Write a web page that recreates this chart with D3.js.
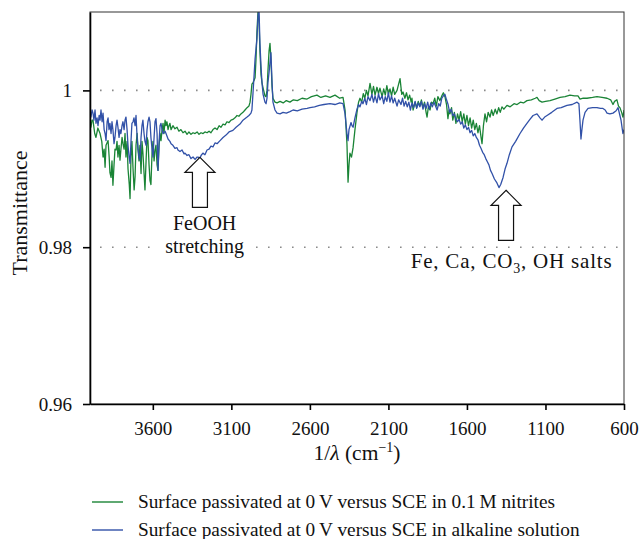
<!DOCTYPE html>
<html lang="en">
<head>
  <meta charset="UTF-8">
  <title>Transmittance spectra</title>
  <script src="https://d3js.org/d3.v7.min.js"></script>
  <style>
    body { margin: 0; background: #fff; }
    svg text { font-family: "Liberation Serif", "Times New Roman", serif; }
  </style>
</head>
<body>
  <div id="chart"></div>

  <script>
    // wavenumber (cm-1), transmittance
    const nitrites = [
      [4000, 0.9960], [3994, 0.9953], [3987, 0.9962], [3981, 0.9962], [3970, 0.9945], [3962, 0.9940],
      [3950, 0.9952], [3936, 0.9945], [3925, 0.9935], [3917, 0.9915], [3910, 0.9925], [3904, 0.9902],
      [3898, 0.9930], [3885, 0.9936], [3878, 0.9915], [3873, 0.9895], [3866, 0.9889], [3860, 0.9910],
      [3854, 0.9879], [3847, 0.9905], [3841, 0.9925], [3834, 0.9924], [3828, 0.9935], [3822, 0.9915],
      [3815, 0.9930], [3809, 0.9911], [3803, 0.9925], [3796, 0.9940], [3790, 0.9932], [3783, 0.9925],
      [3777, 0.9945], [3771, 0.9915], [3764, 0.9935], [3758, 0.9900], [3750, 0.9880], [3745, 0.9862],
      [3739, 0.9915], [3733, 0.9935], [3726, 0.9900], [3719, 0.9873], [3713, 0.9890], [3707, 0.9930],
      [3700, 0.9945], [3694, 0.9924], [3688, 0.9910], [3682, 0.9930], [3675, 0.9894], [3669, 0.9935],
      [3663, 0.9920], [3656, 0.9895], [3650, 0.9873], [3643, 0.9910], [3637, 0.9940], [3631, 0.9936],
      [3624, 0.9905], [3618, 0.9885], [3612, 0.9880], [3605, 0.9920], [3599, 0.9935], [3592, 0.9910],
      [3586, 0.9924], [3580, 0.9930], [3573, 0.9905], [3567, 0.9898], [3560, 0.9930], [3554, 0.9945],
      [3548, 0.9936], [3541, 0.9950], [3535, 0.9958], [3529, 0.9945], [3522, 0.9962], [3516, 0.9955],
      [3510, 0.9960], [3503, 0.9950], [3497, 0.9955], [3491, 0.9958], [3484, 0.9950], [3472, 0.9955],
      [3459, 0.9951], [3446, 0.9953], [3434, 0.9948], [3421, 0.9950], [3408, 0.9946], [3395, 0.9948],
      [3382, 0.9944], [3370, 0.9947], [3357, 0.9944], [3344, 0.9946], [3331, 0.9945], [3318, 0.9947],
      [3306, 0.9944], [3293, 0.9946], [3280, 0.9945], [3268, 0.9947], [3255, 0.9946], [3242, 0.9948],
      [3230, 0.9946], [3217, 0.9950], [3204, 0.9952], [3191, 0.9950], [3178, 0.9955], [3166, 0.9953],
      [3153, 0.9957], [3140, 0.9956], [3128, 0.9960], [3115, 0.9959], [3102, 0.9962], [3090, 0.9963],
      [3077, 0.9965], [3064, 0.9968], [3052, 0.9967], [3039, 0.9970], [3026, 0.9972], [3013, 0.9975],
      [3000, 0.9978], [2988, 0.9980], [2981, 0.9985], [2975, 0.9995], [2969, 1.0008], [2962, 1.0010],
      [2955, 1.0013], [2949, 1.0016], [2943, 1.0040], [2937, 1.0075], [2930, 1.0102], [2924, 1.0090],
      [2918, 1.0050], [2911, 1.0020], [2905, 1.0010], [2898, 1.0003], [2892, 0.9998], [2886, 0.9993],
      [2879, 0.9992], [2873, 1.0000], [2867, 1.0025], [2860, 1.0050], [2854, 1.0060], [2848, 1.0040],
      [2841, 1.0005], [2835, 0.9990], [2822, 0.9985], [2809, 0.9984], [2790, 0.9986], [2770, 0.9984],
      [2750, 0.9987], [2727, 0.9985], [2705, 0.9988], [2680, 0.9987], [2650, 0.9990], [2618, 0.9989],
      [2590, 0.9992], [2555, 0.9994], [2530, 0.9991], [2500, 0.9993], [2472, 0.9991], [2440, 0.9994],
      [2410, 0.9990], [2389, 0.9991], [2376, 0.9975], [2364, 0.9932], [2357, 0.9883], [2351, 0.9905],
      [2345, 0.9920], [2335, 0.9915], [2325, 0.9927], [2313, 0.9950], [2300, 0.9972], [2290, 0.9985],
      [2281, 0.9990], [2270, 0.9985], [2260, 0.9996], [2250, 0.9990], [2240, 1.0000], [2230, 0.9993],
      [2217, 1.0009], [2205, 0.9995], [2195, 1.0005], [2185, 0.9994], [2173, 1.0004], [2163, 0.9996],
      [2154, 1.0003], [2140, 0.9992], [2130, 1.0002], [2120, 0.9994], [2110, 1.0006], [2100, 0.9995],
      [2090, 1.0002], [2080, 0.9993], [2070, 1.0004], [2060, 0.9995], [2045, 1.0000], [2035, 1.0008],
      [2026, 1.0015], [2015, 0.9995], [2007, 0.9998], [1995, 0.9990], [1985, 0.9997], [1975, 0.9988],
      [1965, 0.9994], [1955, 0.9985], [1950, 0.9990], [1943, 0.9975], [1930, 0.9985], [1920, 0.9978],
      [1910, 0.9986], [1900, 0.9980], [1890, 0.9988], [1880, 0.9978], [1870, 0.9985], [1860, 0.9972],
      [1854, 0.9966], [1845, 0.9980], [1835, 0.9975], [1825, 0.9985], [1816, 0.9983], [1805, 0.9990],
      [1795, 0.9980], [1785, 0.9992], [1772, 0.9987], [1760, 0.9993], [1750, 0.9997], [1740, 0.9992],
      [1730, 0.9982], [1721, 0.9964], [1714, 0.9975], [1708, 0.9970], [1698, 0.9978], [1690, 0.9962],
      [1680, 0.9972], [1670, 0.9958], [1660, 0.9970], [1650, 0.9962], [1640, 0.9973], [1630, 0.9960],
      [1620, 0.9970], [1610, 0.9957], [1600, 0.9968], [1590, 0.9955], [1580, 0.9965], [1570, 0.9952],
      [1560, 0.9962], [1550, 0.9950], [1540, 0.9958], [1530, 0.9946], [1520, 0.9955], [1510, 0.9940],
      [1504, 0.9932], [1495, 0.9955], [1485, 0.9970], [1475, 0.9960], [1465, 0.9972], [1453, 0.9966],
      [1443, 0.9975], [1433, 0.9968], [1420, 0.9976], [1409, 0.9970], [1398, 0.9978], [1388, 0.9972],
      [1377, 0.9979], [1365, 0.9976], [1345, 0.9981], [1325, 0.9979], [1300, 0.9983], [1281, 0.9982],
      [1260, 0.9985], [1240, 0.9984], [1218, 0.9987], [1190, 0.9988], [1165, 0.9990], [1154, 0.9991],
      [1140, 0.9987], [1122, 0.9985], [1100, 0.9986], [1071, 0.9987], [1040, 0.9989], [1007, 0.9991],
      [975, 0.9992], [944, 0.9994], [915, 0.9993], [893, 0.9993], [880, 0.9989], [860, 0.9990],
      [836, 0.9990], [800, 0.9991], [772, 0.9992], [740, 0.9991], [708, 0.9990], [685, 0.9988],
      [670, 0.9982], [660, 0.9986], [645, 0.9988], [635, 0.9980], [626, 0.9978], [615, 0.9972],
      [607, 0.9966], [600, 0.9975]
    ];

    const alkaline = [
      [4000, 0.9968], [3994, 0.9966], [3987, 0.9975], [3981, 0.9971], [3975, 0.9962], [3968, 0.9975],
      [3962, 0.9958], [3955, 0.9965], [3949, 0.9955], [3942, 0.9968], [3936, 0.9962], [3930, 0.9975],
      [3923, 0.9960], [3917, 0.9971], [3910, 0.9950], [3904, 0.9945], [3898, 0.9936], [3891, 0.9960],
      [3885, 0.9965], [3879, 0.9950], [3873, 0.9958], [3866, 0.9945], [3860, 0.9960], [3854, 0.9950],
      [3847, 0.9932], [3841, 0.9940], [3834, 0.9955], [3828, 0.9962], [3822, 0.9953], [3815, 0.9940],
      [3809, 0.9950], [3803, 0.9945], [3796, 0.9955], [3790, 0.9960], [3783, 0.9950], [3777, 0.9962],
      [3771, 0.9966], [3764, 0.9950], [3758, 0.9930], [3751, 0.9915], [3745, 0.9907], [3739, 0.9935],
      [3733, 0.9958], [3726, 0.9960], [3720, 0.9965], [3713, 0.9955], [3707, 0.9968], [3700, 0.9940],
      [3694, 0.9925], [3688, 0.9915], [3682, 0.9911], [3675, 0.9940], [3669, 0.9955], [3663, 0.9962],
      [3656, 0.9945], [3650, 0.9935], [3643, 0.9930], [3637, 0.9950], [3631, 0.9960], [3624, 0.9966],
      [3618, 0.9960], [3612, 0.9940], [3605, 0.9925], [3599, 0.9915], [3592, 0.9940], [3586, 0.9960],
      [3580, 0.9964], [3573, 0.9945], [3567, 0.9898], [3560, 0.9935], [3554, 0.9955], [3548, 0.9958],
      [3541, 0.9950], [3535, 0.9945], [3522, 0.9948], [3516, 0.9945], [3503, 0.9938], [3491, 0.9935],
      [3484, 0.9932], [3472, 0.9930], [3459, 0.9926], [3446, 0.9927], [3440, 0.9924], [3427, 0.9922],
      [3414, 0.9924], [3401, 0.9919], [3395, 0.9920], [3382, 0.9917], [3370, 0.9918], [3357, 0.9913],
      [3344, 0.9915], [3331, 0.9912], [3318, 0.9915], [3312, 0.9915], [3300, 0.9913], [3293, 0.9917],
      [3281, 0.9920], [3268, 0.9918], [3255, 0.9924], [3242, 0.9925], [3230, 0.9929], [3217, 0.9928],
      [3204, 0.9933], [3191, 0.9932], [3172, 0.9936], [3153, 0.9940], [3134, 0.9943], [3115, 0.9947],
      [3090, 0.9949], [3070, 0.9953], [3045, 0.9957], [3026, 0.9962], [3000, 0.9966], [2988, 0.9968],
      [2975, 0.9971], [2969, 0.9975], [2962, 0.9997], [2955, 1.0020], [2949, 1.0040], [2937, 1.0066],
      [2930, 1.0095], [2924, 1.0105], [2918, 1.0060], [2911, 1.0030], [2905, 1.0010], [2898, 0.9995],
      [2886, 0.9985], [2879, 0.9983], [2873, 0.9990], [2867, 1.0010], [2860, 1.0023], [2848, 1.0048],
      [2841, 1.0010], [2835, 0.9985], [2822, 0.9975], [2809, 0.9971], [2790, 0.9970], [2771, 0.9972],
      [2750, 0.9971], [2727, 0.9973], [2707, 0.9975], [2680, 0.9974], [2650, 0.9976], [2618, 0.9977],
      [2599, 0.9978], [2570, 0.9979], [2540, 0.9981], [2510, 0.9982], [2472, 0.9983], [2440, 0.9982],
      [2410, 0.9984], [2389, 0.9983], [2376, 0.9970], [2364, 0.9945], [2357, 0.9936], [2351, 0.9950],
      [2338, 0.9959], [2332, 0.9955], [2325, 0.9953], [2313, 0.9965], [2300, 0.9976], [2290, 0.9982],
      [2281, 0.9979], [2270, 0.9986], [2262, 0.9983], [2250, 0.9990], [2240, 0.9982], [2230, 0.9992],
      [2217, 0.9987], [2205, 0.9995], [2195, 0.9985], [2185, 0.9993], [2173, 0.9984], [2163, 0.9996],
      [2154, 0.9988], [2140, 0.9993], [2130, 0.9983], [2120, 0.9992], [2110, 0.9986], [2100, 0.9997],
      [2090, 0.9985], [2080, 0.9993], [2070, 0.9984], [2060, 0.9990], [2045, 0.9980], [2035, 0.9988],
      [2020, 0.9982], [2010, 0.9990], [2000, 0.9980], [1990, 0.9986], [1980, 0.9979], [1970, 0.9985],
      [1960, 0.9975], [1950, 0.9984], [1940, 0.9978], [1930, 0.9986], [1920, 0.9977], [1910, 0.9984],
      [1900, 0.9979], [1890, 0.9986], [1880, 0.9976], [1870, 0.9983], [1860, 0.9977], [1850, 0.9985],
      [1840, 0.9976], [1830, 0.9984], [1820, 0.9979], [1810, 0.9985], [1800, 0.9980], [1790, 0.9975],
      [1780, 0.9983], [1770, 0.9980], [1760, 0.9990], [1750, 0.9993], [1740, 0.9995], [1730, 0.9988],
      [1720, 0.9982], [1710, 0.9972], [1700, 0.9976], [1690, 0.9968], [1680, 0.9970], [1670, 0.9963],
      [1660, 0.9960], [1650, 0.9963], [1640, 0.9957], [1630, 0.9960], [1620, 0.9952], [1610, 0.9956],
      [1600, 0.9950], [1590, 0.9953], [1580, 0.9946], [1570, 0.9949], [1560, 0.9942], [1550, 0.9945],
      [1540, 0.9940], [1530, 0.9937], [1520, 0.9930], [1510, 0.9926], [1500, 0.9921], [1490, 0.9918],
      [1480, 0.9913], [1470, 0.9909], [1460, 0.9905], [1450, 0.9898], [1440, 0.9894], [1425, 0.9887],
      [1409, 0.9882], [1396, 0.9876], [1385, 0.9880], [1370, 0.9889], [1357, 0.9900], [1345, 0.9907],
      [1330, 0.9918], [1313, 0.9928], [1290, 0.9935], [1262, 0.9945], [1240, 0.9952], [1218, 0.9958],
      [1199, 0.9963], [1179, 0.9968], [1154, 0.9970], [1135, 0.9965], [1122, 0.9962], [1105, 0.9966],
      [1090, 0.9968], [1060, 0.9972], [1027, 0.9977], [1000, 0.9978], [963, 0.9981], [930, 0.9982],
      [899, 0.9985], [887, 0.9983], [880, 0.9960], [874, 0.9938], [868, 0.9950], [861, 0.9962],
      [848, 0.9972], [829, 0.9977], [800, 0.9978], [772, 0.9978], [750, 0.9977], [734, 0.9977],
      [720, 0.9975], [708, 0.9971], [690, 0.9970], [670, 0.9971], [650, 0.9974], [638, 0.9978],
      [626, 0.9968], [619, 0.9962], [607, 0.9945], [600, 0.9950]
    ];

    const xTicks = [3600, 3100, 2600, 2100, 1600, 1100, 600];
    const yTicks = [0.96, 0.98, 1];
    const gridValues = [0.98, 1];
    const legendLabels = [
      "Surface passivated at 0\u2009V versus SCE in 0.1\u2009M nitrites",
      "Surface passivated at 0\u2009V versus SCE in alkaline solution"
    ];
    // arrow annotations: position of the tip (wavenumber, transmittance)
    const arrows = [
      {wn: 3300, t: 0.99146},
      {wn: 1351, t: 0.98726}
    ];

    const colors = ["#1a8436", "#3151a8"];
    const serif = "'Liberation Serif', 'Times New Roman', serif";

    const margin = {top: 12, right: 17, bottom: 135, left: 90},
          width = 641 - margin.left - margin.right,
          height = 539 - margin.top - margin.bottom;

    const svgRoot = d3.select("#chart")
      .append("svg")
      .attr("width", 641)
      .attr("height", 539)
      .attr("font-family", serif);

    const svg = svgRoot.append("g")
      .attr("transform", `translate(${margin.left},${margin.top})`);

    const x = d3.scaleLinear().domain([4000, 600]).range([0, width]);
    const y = d3.scaleLinear().domain([0.96, 1.01]).range([height, 0]);

    // dotted reference lines
    svg.selectAll(".grid")
      .data(gridValues)
      .enter()
      .append("line")
      .attr("x1", 10).attr("x2", width - 4)
      .attr("y1", d => y(d)).attr("y2", d => y(d))
      .attr("stroke", "#8a8a8a")
      .attr("stroke-width", 1.6)
      .attr("stroke-dasharray", "1.6 10.4");

    svg.append("clipPath").attr("id", "clip")
      .append("rect").attr("width", width).attr("height", height);

    const line = d3.line().x(d => x(d[0])).y(d => y(d[1]));

    [nitrites, alkaline].forEach((series, i) => {
      svg.append("path")
        .datum(series)
        .attr("clip-path", "url(#clip)")
        .attr("fill", "none")
        .attr("stroke", colors[i])
        .attr("stroke-width", 1.3)
        .attr("stroke-linejoin", "round")
        .attr("d", line);
    });

    // frame
    svg.append("rect")
      .attr("width", width).attr("height", height)
      .attr("fill", "none").attr("stroke", "#333").attr("stroke-width", 1);

    const xAxis = d3.axisBottom(x).tickValues(xTicks).tickSize(6).tickSizeOuter(0).tickPadding(12)
      .tickFormat(d3.format("d"));
    const yAxis = d3.axisLeft(y).tickValues(yTicks).tickSize(7).tickSizeOuter(0).tickPadding(11)
      .tickFormat(d => d === 1 ? "1" : d3.format(".2f")(d));

    const gx = svg.append("g").attr("transform", `translate(0,${height})`).call(xAxis);
    const gy = svg.append("g").call(yAxis);
    [gx, gy].forEach(g => {
      g.attr("font-family", serif).attr("font-size", 19);
      g.selectAll("path, line").attr("stroke", "#000").attr("stroke-width", 1.6);
      g.selectAll("text").attr("fill", "#111");
    });

    // hollow arrows
    arrows.forEach(a => {
      const tx = x(a.wn), ty = y(a.t);
      const pts = [[0, 0], [15, 15], [7.5, 15], [7.5, 50], [-7.5, 50], [-7.5, 15], [-15, 15]];
      svg.append("path")
        .attr("d", d3.line()(pts.map(p => [tx + p[0], ty + p[1]])) + "Z")
        .attr("fill", "#fff").attr("stroke", "#111").attr("stroke-width", 1.2);
    });

    // annotation texts
    const ann = svg.append("g").attr("font-size", 20).attr("fill", "#111");
    ann.append("text").attr("x", x(3270)).attr("y", 218).attr("text-anchor", "middle").text("FeOOH");
    const stretch = ann.append("text").attr("x", x(3270)).attr("y", 241).attr("text-anchor", "middle").text("stretching");
    const bb = stretch.node().getBBox();
    ann.insert("rect", "text:last-child")
      .attr("x", bb.x - 6).attr("y", bb.y).attr("width", bb.width + 12).attr("height", bb.height)
      .attr("fill", "#fff");

    const salts = ann.append("text").attr("x", x(1316)).attr("y", 256).attr("text-anchor", "middle")
      .attr("font-size", 21).attr("letter-spacing", 0.8);
    salts.append("tspan").text("Fe, Ca, CO");
    salts.append("tspan").attr("dy", 5).attr("font-size", 14).text("3");
    salts.append("tspan").attr("dy", -5).text(", OH salts");

    // axis titles
    const xl = svgRoot.append("text")
      .attr("x", margin.left + width / 2).attr("y", 460)
      .attr("text-anchor", "middle").attr("font-size", 21.5).attr("fill", "#111");
    xl.append("tspan").text("1/");
    xl.append("tspan").attr("font-style", "italic").text("\u03bb");
    xl.append("tspan").text(" (cm");
    xl.append("tspan").attr("dy", -8).attr("font-size", 14).text("\u22121");
    xl.append("tspan").attr("dy", 8).text(")");

    svgRoot.append("text")
      .attr("transform", "translate(27,213) rotate(-90)")
      .attr("text-anchor", "middle").attr("font-size", 22).attr("fill", "#111")
      .text("Transmittance");

    // legend
    const legend = svgRoot.append("g").attr("transform", "translate(92,502)");
    legendLabels.forEach((label, i) => {
      const row = legend.append("g").attr("transform", `translate(0,${i * 28})`);
      row.append("line").attr("x1", 0).attr("x2", 31).attr("y1", 0).attr("y2", 0)
        .attr("stroke", colors[i]).attr("stroke-width", 1.4);
      row.append("text").attr("x", 46).attr("y", 6).attr("font-size", 19.3).attr("fill", "#111")
        .text(label);
    });
  </script>
</body>
</html>
